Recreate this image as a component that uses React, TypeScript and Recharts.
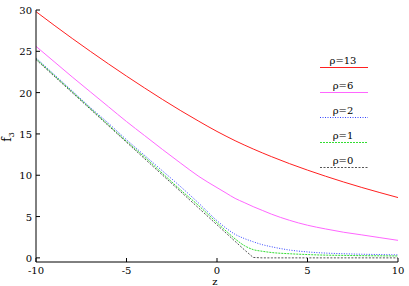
import { LineChart, Line, XAxis, YAxis } from 'recharts'

const zValues = [-10, -9, -8, -7, -6, -5, -4, -3, -2, -1, 0, 0.5, 1, 1.5, 2, 2.5, 3, 4, 5, 6, 7, 8, 9, 10]
const rho13 = [29.8, 28.16, 26.56, 25.0, 23.48, 22.0, 20.56, 19.16, 17.81, 16.53, 15.3, 14.73, 14.18, 13.67, 13.18, 12.71, 12.26, 11.41, 10.62, 9.88, 9.18, 8.52, 7.9, 7.3]
const rho6 = [25.6, 23.75, 21.9, 20.1, 18.3, 16.5, 14.8, 13.1, 11.45, 9.85, 8.5, 7.85, 7.2, 6.7, 6.2, 5.75, 5.3, 4.55, 3.95, 3.5, 3.1, 2.78, 2.45, 2.12]
const rho2 = [24.2, 22.2, 20.2, 18.2, 16.3, 14.3, 12.4, 10.5, 8.6, 6.6, 4.5, 3.6, 2.85, 2.35, 1.95, 1.6, 1.35, 0.95, 0.72, 0.58, 0.5, 0.44, 0.4, 0.36]
const rho1 = [24.1, 22.1, 20.1, 18.1, 16.1, 14.1, 12.2, 10.2, 8.2, 6.3, 4.25, 3.25, 2.3, 1.5, 1.0, 0.8, 0.65, 0.5, 0.4, 0.33, 0.3, 0.27, 0.25, 0.23]
const rho0 = [24, 22, 20, 18, 16, 14, 12, 10, 8, 6, 4, 3, 2, 1, 0.05, 0, 0, 0, 0, 0, 0, 0, 0, 0]

const xTicks = [-10, -5, 0, 5, 10]
const yTicks = [0, 5, 10, 15, 20, 25, 30]

const series = [
  { key: 'r13', label: 'ρ=13', color: '#ff2020', dash: undefined, curve: 'monotone' },
  { key: 'r6', label: 'ρ=6', color: '#ff66ff', dash: undefined, curve: 'monotone' },
  { key: 'r2', label: 'ρ=2', color: '#3344ff', dash: '1 1.5', curve: 'monotone' },
  { key: 'r1', label: 'ρ=1', color: '#33dd33', dash: '2 1', curve: 'monotone' },
  { key: 'r0', label: 'ρ=0', color: '#555555', dash: '2 1.5', curve: 'linear' },
]

const data = zValues.map((z, i) => ({
  z,
  r13: rho13[i],
  r6: rho6[i],
  r2: rho2[i],
  r1: rho1[i],
  r0: rho0[i],
}))

const serifName = "'DejaVu Serif', 'Liberation Serif', 'Times New Roman', serif"
const serif = { fontFamily: serifName }

function BottomTick({ x, y, payload }: any) {
  return (
    <g>
      <line x1={x} x2={x} y1={y} y2={y - 4} stroke="#000" />
      <text x={x} y={y + 12} textAnchor="middle" fontSize={10} style={serif} fill="#000">
        {payload.value}
      </text>
    </g>
  )
}

function TopTick({ x, y }: any) {
  return <line x1={x} x2={x} y1={y} y2={y + 4} stroke="#000" />
}

function LeftTick({ x, y, payload }: any) {
  return (
    <g>
      <line x1={x} x2={x + 4} y1={y} y2={y} stroke="#000" />
      <text x={x - 4} y={y + 4} textAnchor="end" fontSize={10} style={serif} fill="#000">
        {payload.value}
      </text>
    </g>
  )
}

function RightTick({ x, y }: any) {
  return <line x1={x} x2={x - 4} y1={y} y2={y} stroke="#000" />
}

// legend drawn as an overlay so it doesn't take space from the plot
function RhoLegend() {
  return (
    <svg width={60} height={130} style={{ position: 'absolute', left: 318, top: 50 }}>
      {series.map((s, i) => (
        <g key={s.key}>
          <text x={25} y={i * 25 + 14} textAnchor="middle" fontSize={10} style={serif} fill="#000">
            {s.label}
          </text>
          <line x1={2} x2={50} y1={i * 25 + 17.5} y2={i * 25 + 17.5} stroke={s.color} strokeDasharray={s.dash} />
        </g>
      ))}
    </svg>
  )
}

export default function App() {
  return (
    <div style={{ position: 'absolute', left: 0, top: 0, width: 409, height: 286, background: '#fff', fontFamily: serifName }}>
      <LineChart width={409} height={286} data={data} margin={{ top: 10, right: 11, left: 0, bottom: 0 }}>
        <XAxis
          dataKey="z"
          type="number"
          domain={[-10, 10]}
          ticks={xTicks}
          height={24}
          tickSize={0}
          tickMargin={0}
          tickLine={false}
          axisLine={{ stroke: '#000' }}
          tick={<BottomTick />}
          label={{
            content: () => (
              <text x={215} y={285} textAnchor="middle" fontSize={10} style={serif} fill="#000">
                z
              </text>
            ),
          }}
        />
        <XAxis
          xAxisId="top"
          dataKey="z"
          type="number"
          orientation="top"
          domain={[-10, 10]}
          ticks={xTicks}
          height={0}
          tickSize={0}
          tickMargin={0}
          tickLine={false}
          axisLine={{ stroke: '#000' }}
          tick={<TopTick />}
        />
        <YAxis
          type="number"
          domain={[-0.5, 30]}
          ticks={yTicks}
          width={36}
          tickSize={0}
          tickMargin={0}
          tickLine={false}
          axisLine={{ stroke: '#000' }}
          tick={<LeftTick />}
          label={{
            content: () => (
              <text x={11} y={137} transform="rotate(-90 11 137)" textAnchor="middle" fontSize={12} style={serif} fill="#000">
                f<tspan fontSize={8} dy={3}>3</tspan>
              </text>
            ),
          }}
        />
        <YAxis
          yAxisId="right"
          orientation="right"
          type="number"
          domain={[-0.5, 30]}
          ticks={yTicks}
          width={0}
          tickSize={0}
          tickMargin={0}
          tickLine={false}
          axisLine={{ stroke: '#000' }}
          tick={<RightTick />}
        />
        {series.map((s) => (
          <Line
            key={s.key}
            type={s.curve as any}
            dataKey={s.key}
            stroke={s.color}
            strokeWidth={1}
            strokeDasharray={s.dash}
            dot={false}
            isAnimationActive={false}
          />
        ))}
      </LineChart>
      <RhoLegend />
    </div>
  )
}
